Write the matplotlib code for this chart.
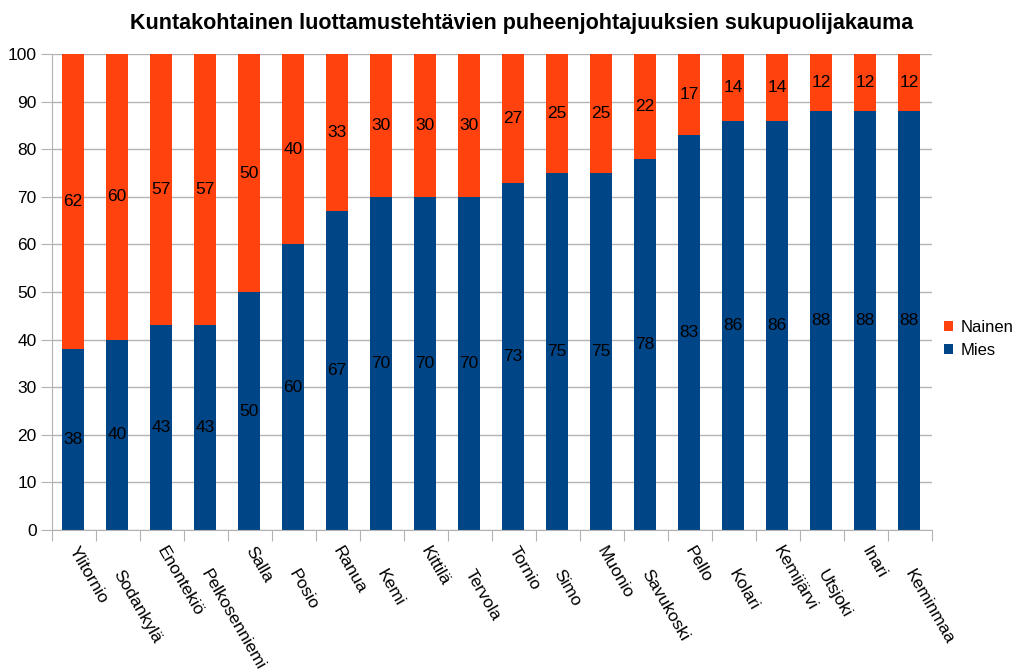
import numpy as np
import matplotlib.pyplot as plt
import matplotlib.transforms as mtransforms

plt.rcParams['font.family'] = ['Liberation Sans', 'DejaVu Sans']

kunnat = ['Ylitornio', 'Sodankylä', 'Enontekiö', 'Pelkosenniemi', 'Salla', 'Posio',
          'Ranua', 'Kemi', 'Kittilä', 'Tervola', 'Tornio', 'Simo', 'Muonio',
          'Savukoski', 'Pello', 'Kolari', 'Kemijärvi', 'Utsjoki', 'Inari', 'Keminmaa']
mies = [38, 40, 43, 43, 50, 60, 67, 70, 70, 70, 73, 75, 75, 78, 83, 86, 86, 88, 88, 88]
nainen = [62, 60, 57, 57, 50, 40, 33, 30, 30, 30, 27, 25, 25, 22, 17, 14, 14, 12, 12, 12]

blue = '#004586'
orange = '#ff420e'
grid_col = '#b3b3b3'

fig = plt.figure(figsize=(10.16, 6.72), dpi=100)
ax = fig.add_axes([52 / 1016, 1 - 530 / 672, 880 / 1016, 476 / 672])

x = np.arange(len(kunnat))
b1 = ax.bar(x - 0.02, mies, width=0.5, color=blue, label='Mies', zorder=2)
b2 = ax.bar(x - 0.02, nainen, width=0.5, bottom=mies, color=orange, label='Nainen', zorder=2)

for i in range(len(kunnat)):
    ax.text(x[i] - 0.02, mies[i] / 2, str(mies[i]), ha='center', va='center', fontsize=12.5, zorder=3)
    ax.text(x[i] - 0.02, mies[i] + nainen[i] / 2, str(nainen[i]), ha='center', va='center',
            fontsize=12.5, zorder=3)

ax.set_xlim(-0.5, len(kunnat) - 0.5)
ax.set_ylim(0, 100)
ax.set_yticks(range(0, 101, 10))
ax.tick_params(axis='y', labelsize=12.5, length=8, color=grid_col, pad=3)
ax.set_xticks(np.arange(len(kunnat) + 1) - 0.5)
ax.set_xticklabels([])
ax.tick_params(axis='x', length=8, color=grid_col)
ax.yaxis.grid(True, color=grid_col, linewidth=1, zorder=0)
ax.set_axisbelow(True)
for side in ['top', 'right']:
    ax.spines[side].set_visible(False)
for side in ['left', 'bottom']:
    ax.spines[side].set_color(grid_col)

# staggered rotated category labels
trans = mtransforms.blended_transform_factory(ax.transData, ax.transAxes)
for i, name in enumerate(kunnat):
    yoff = -0.029 if i % 2 == 0 else -0.078
    ax.text(x[i] + 0.12, yoff, name, transform=trans, rotation=-60, rotation_mode='anchor',
            ha='left', va='top', fontsize=12.5)

fig.text(0.513, 0.965, 'Kuntakohtainen luottamustehtävien puheenjohtajuuksien sukupuolijakauma',
         ha='center', va='center', fontsize=15.5, fontweight='bold')

ax.legend(handles=[b2, b1], loc='center left', bbox_to_anchor=(1.014, 0.401), frameon=False,
          fontsize=12, handlelength=0.55, handleheight=0.55, handletextpad=0.45,
          labelspacing=0.45, borderaxespad=0, borderpad=0)

fig.savefig('out.png', dpi=100)
